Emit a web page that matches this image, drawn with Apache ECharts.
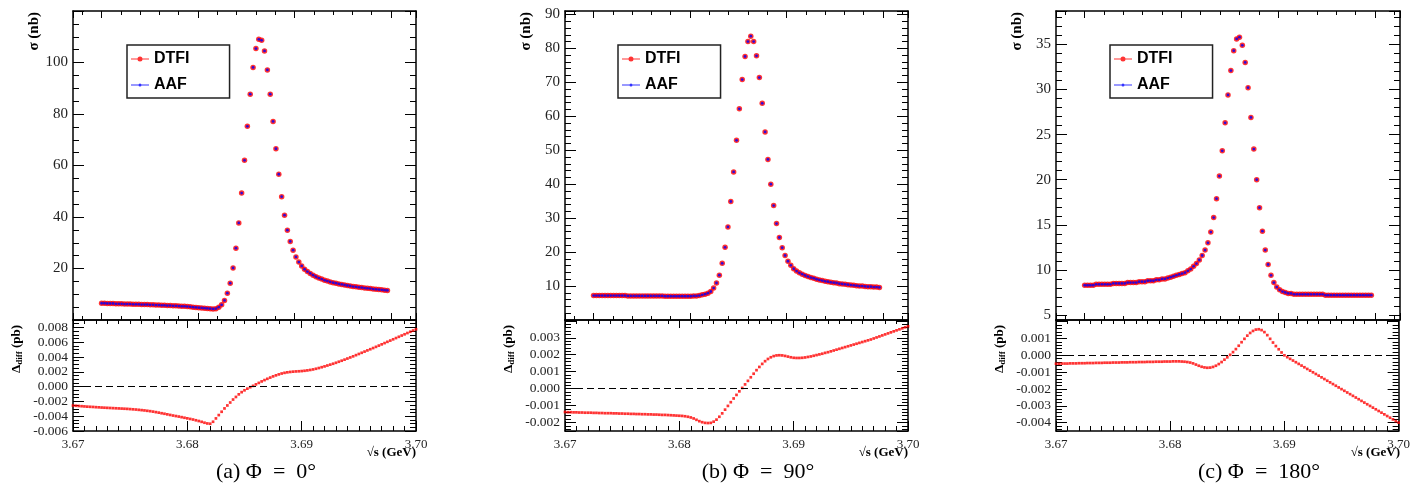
<!DOCTYPE html>
<html>
<head>
<meta charset="utf-8">
<title>sigma vs sqrt(s)</title>
<script src="https://cdn.jsdelivr.net/npm/echarts@6/dist/echarts.min.js"></script>
<style>
  html, body { margin: 0; padding: 0; background: #fff; }
  #main { width: 1413px; height: 486px; }
</style>
</head>
<body>
<div id="main"></div>
<script>
// sqrt(s) grid (GeV), the Delta_diff points use all of it
const energy = [
    3.67000, 3.67025, 3.67050, 3.67075, 3.67100, 3.67125, 3.67150, 3.67175,
    3.67200, 3.67225, 3.67250, 3.67275, 3.67300, 3.67325, 3.67350, 3.67375,
    3.67400, 3.67425, 3.67450, 3.67475, 3.67500, 3.67525, 3.67550, 3.67575,
    3.67600, 3.67625, 3.67650, 3.67675, 3.67700, 3.67725, 3.67750, 3.67775,
    3.67800, 3.67825, 3.67850, 3.67875, 3.67900, 3.67925, 3.67950, 3.67975,
    3.68000, 3.68025, 3.68050, 3.68075, 3.68100, 3.68125, 3.68150, 3.68175,
    3.68200, 3.68225, 3.68250, 3.68275, 3.68300, 3.68325, 3.68350, 3.68375,
    3.68400, 3.68425, 3.68450, 3.68475, 3.68500, 3.68525, 3.68550, 3.68575,
    3.68600, 3.68625, 3.68650, 3.68675, 3.68700, 3.68725, 3.68750, 3.68775,
    3.68800, 3.68825, 3.68850, 3.68875, 3.68900, 3.68925, 3.68950, 3.68975,
    3.69000, 3.69025, 3.69050, 3.69075, 3.69100, 3.69125, 3.69150, 3.69175,
    3.69200, 3.69225, 3.69250, 3.69275, 3.69300, 3.69325, 3.69350, 3.69375,
    3.69400, 3.69425, 3.69450, 3.69475, 3.69500, 3.69525, 3.69550, 3.69575,
    3.69600, 3.69625, 3.69650, 3.69675, 3.69700, 3.69725, 3.69750, 3.69775,
    3.69800, 3.69825, 3.69850, 3.69875, 3.69900, 3.69925, 3.69950, 3.69975,
    3.70000
]
// the cross sections are drawn from 3.6725 to 3.6975
const energyTop = energy.slice(10, 111)

// sigma (nb); DTFI and AAF coincide at this scale, so one list serves both
const sigma0 = [
    6.5, 6.5, 6.4, 6.4, 6.4, 6.3, 6.3, 6.3, 6.2, 6.2,
    6.2, 6.1, 6.1, 6.1, 6.0, 6.0, 6.0, 5.9, 5.9, 5.8,
    5.8, 5.7, 5.7, 5.6, 5.6, 5.5, 5.5, 5.4, 5.3, 5.3,
    5.2, 5.1, 5.0, 4.9, 4.8, 4.7, 4.6, 4.5, 4.4, 4.3,
    4.4, 5.0, 5.9, 7.6, 10.4, 14.3, 20.2, 27.9, 37.7, 49.3,
    62.0, 75.2, 87.7, 98.1, 105.4, 109.0, 108.6, 104.5, 97.1, 87.7,
    77.1, 66.5, 56.6, 47.9, 40.7, 34.9, 30.5, 27.1, 24.5, 22.5,
    21.0, 19.7, 18.8, 18.1, 17.4, 16.8, 16.3, 15.9, 15.4, 15.1,
    14.8, 14.5, 14.3, 14.0, 13.8, 13.6, 13.4, 13.2, 13.0, 12.9,
    12.7, 12.6, 12.4, 12.3, 12.2, 12.0, 11.9, 11.8, 11.7, 11.6, 11.5
]
const sigma90 = [
    7.2, 7.2, 7.2, 7.2, 7.2, 7.2, 7.2, 7.2, 7.2, 7.2,
    7.2, 7.2, 7.1, 7.1, 7.1, 7.1, 7.1, 7.1, 7.1, 7.1,
    7.1, 7.1, 7.1, 7.1, 7.1, 7.0, 7.0, 7.0, 7.0, 7.0,
    7.0, 7.0, 7.0, 7.0, 7.0, 7.1, 7.1, 7.2, 7.4, 7.6,
    7.9, 8.4, 9.4, 10.9, 13.2, 16.7, 21.4, 27.4, 34.9, 43.6,
    52.9, 62.2, 70.8, 77.6, 82.0, 83.6, 82.0, 77.8, 71.4, 63.8,
    55.4, 47.3, 40.0, 33.7, 28.4, 24.3, 21.3, 19.0, 17.3, 16.1,
    15.1, 14.4, 13.9, 13.5, 13.1, 12.8, 12.5, 12.3, 12.0, 11.8,
    11.6, 11.4, 11.3, 11.1, 11.0, 10.9, 10.7, 10.6, 10.5, 10.4,
    10.3, 10.2, 10.1, 10.0, 10.0, 9.9, 9.8, 9.8, 9.7, 9.7, 9.6
]
const sigma180 = [
    8.3, 8.3, 8.3, 8.3, 8.4, 8.4, 8.4, 8.4, 8.4, 8.4,
    8.5, 8.5, 8.5, 8.5, 8.5, 8.6, 8.6, 8.6, 8.6, 8.7,
    8.7, 8.7, 8.8, 8.8, 8.8, 8.9, 8.9, 9.0, 9.0, 9.1,
    9.2, 9.3, 9.4, 9.5, 9.6, 9.7, 9.9, 10.1, 10.4, 10.7,
    11.1, 11.6, 12.2, 13.0, 14.2, 15.8, 17.9, 20.4, 23.2, 26.3,
    29.4, 32.1, 34.3, 35.6, 35.8, 34.9, 33.0, 30.2, 26.9, 23.4,
    20.0, 16.9, 14.3, 12.2, 10.6, 9.4, 8.6, 8.1, 7.8, 7.6,
    7.5, 7.4, 7.4, 7.3, 7.3, 7.3, 7.3, 7.3, 7.3, 7.3,
    7.3, 7.3, 7.3, 7.3, 7.2, 7.2, 7.2, 7.2, 7.2, 7.2,
    7.2, 7.2, 7.2, 7.2, 7.2, 7.2, 7.2, 7.2, 7.2, 7.2, 7.2
]

// Delta_diff, in units of 0.001 pb
const diff0 = [
    -2.56, -2.59, -2.62, -2.65, -2.68, -2.71, -2.73, -2.75, -2.78, -2.80,
    -2.83, -2.85, -2.87, -2.89, -2.91, -2.93, -2.95, -2.97, -2.99, -3.01,
    -3.04, -3.07, -3.10, -3.14, -3.18, -3.22, -3.27, -3.32, -3.38, -3.45,
    -3.52, -3.60, -3.67, -3.75, -3.83, -3.91, -3.98, -4.05, -4.13, -4.21,
    -4.29, -4.37, -4.45, -4.55, -4.65, -4.76, -4.88, -4.98, -5.02, -4.75,
    -4.30, -3.85, -3.40, -2.95, -2.55, -2.15, -1.75, -1.40, -1.05, -0.75,
    -0.50, -0.28, -0.08, 0.10, 0.30, 0.50, 0.70, 0.88, 1.05, 1.22,
    1.38, 1.52, 1.65, 1.77, 1.86, 1.93, 1.98, 2.02, 2.05, 2.07,
    2.10, 2.14, 2.19, 2.25, 2.32, 2.41, 2.51, 2.62, 2.73, 2.85,
    2.97, 3.09, 3.22, 3.36, 3.50, 3.64, 3.79, 3.94, 4.09, 4.25,
    4.41, 4.57, 4.73, 4.89, 5.05, 5.21, 5.37, 5.54, 5.71, 5.88,
    6.05, 6.22, 6.39, 6.56, 6.73, 6.90, 7.07, 7.24, 7.41, 7.58, 7.75
]
const diff90 = [
    -1.38, -1.39, -1.39, -1.40, -1.40, -1.41, -1.41, -1.42, -1.42, -1.42,
    -1.43, -1.43, -1.44, -1.44, -1.45, -1.45, -1.45, -1.46, -1.46, -1.47,
    -1.47, -1.48, -1.48, -1.49, -1.49, -1.50, -1.50, -1.51, -1.51, -1.52,
    -1.52, -1.53, -1.53, -1.54, -1.55, -1.55, -1.56, -1.57, -1.58, -1.59,
    -1.60, -1.61, -1.63, -1.66, -1.70, -1.76, -1.84, -1.92, -1.98, -2.02,
    -2.03, -2.02, -1.95, -1.83, -1.66, -1.46, -1.24, -1.02, -0.80, -0.58,
    -0.37, -0.16, 0.04, 0.25, 0.46, 0.67, 0.88, 1.09, 1.28, 1.46,
    1.62, 1.75, 1.85, 1.92, 1.96, 1.97, 1.96, 1.93, 1.89, 1.85,
    1.82, 1.81, 1.81, 1.82, 1.84, 1.87, 1.90, 1.94, 1.98, 2.02,
    2.06, 2.11, 2.15, 2.20, 2.25, 2.30, 2.35, 2.40, 2.45, 2.50,
    2.55, 2.60, 2.65, 2.70, 2.75, 2.80, 2.85, 2.90, 2.96, 3.02,
    3.08, 3.14, 3.20, 3.26, 3.32, 3.38, 3.44, 3.50, 3.56, 3.62, 3.68
]
const diff180 = [
    -0.50, -0.50, -0.49, -0.49, -0.49, -0.48, -0.48, -0.48, -0.47, -0.47,
    -0.47, -0.46, -0.46, -0.46, -0.45, -0.45, -0.45, -0.44, -0.44, -0.44,
    -0.43, -0.43, -0.43, -0.42, -0.42, -0.42, -0.41, -0.41, -0.41, -0.40,
    -0.40, -0.40, -0.39, -0.39, -0.39, -0.38, -0.38, -0.38, -0.37, -0.37,
    -0.37, -0.36, -0.36, -0.36, -0.37, -0.38, -0.40, -0.43, -0.48, -0.55,
    -0.62, -0.68, -0.72, -0.74, -0.73, -0.69, -0.62, -0.52, -0.40, -0.26,
    -0.12, 0.03, 0.19, 0.37, 0.57, 0.78, 0.98, 1.17, 1.33, 1.45,
    1.53, 1.55, 1.50, 1.38, 1.20, 0.98, 0.76, 0.55, 0.36, 0.17,
    0.00, -0.11, -0.21, -0.31, -0.41, -0.51, -0.61, -0.71, -0.81, -0.91,
    -1.01, -1.11, -1.21, -1.31, -1.41, -1.51, -1.61, -1.71, -1.81, -1.91,
    -2.01, -2.11, -2.21, -2.31, -2.41, -2.51, -2.61, -2.71, -2.81, -2.91,
    -3.01, -3.11, -3.21, -3.31, -3.41, -3.51, -3.61, -3.71, -3.81, -3.91, -4.00
]

// tick labels that are printed
const energyTicks = [3.67, 3.68, 3.69, 3.70]
const sigmaTicks0 = [20, 40, 60, 80, 100]
const sigmaTicks90 = [10, 20, 30, 40, 50, 60, 70, 80, 90]
const sigmaTicks180 = [5, 10, 15, 20, 25, 30, 35]
const diffTicks0 = [-6, -4, -2, 0, 2, 4, 6, 8]
const diffTicks90 = [-2, -1, 0, 1, 2, 3]
const diffTicks180 = [-4, -3, -2, -1, 0, 1]

const captions = ['(a) Φ\u2002=\u20020°', '(b) Φ\u2002=\u200290°', '(c) Φ\u2002=\u2002180°']

const SERIF = '"Liberation Serif", "DejaVu Serif", serif'
const SANS = '"Liberation Sans", Arial, sans-serif'
const TOP = 11, SPLIT = 320, BOTTOM = 431

const ICON_DTFI = 'path://M0,4.5L18,4.5L18,5.5L0,5.5Z M6.5,5A2.5,2.5,0,1,1,11.5,5A2.5,2.5,0,1,1,6.5,5Z'
const ICON_AAF = 'path://M0,4.5L18,4.5L18,5.5L0,5.5Z M7.5,5A1.5,1.5,0,1,1,10.5,5A1.5,1.5,0,1,1,7.5,5Z'

const panels = [
    {
        left: 73, width: 343, sigma: sigma0, diff: diff0,
        sigmaAxis: { min: 0, max: 120, interval: 20, minor: 4 }, sigmaTicks: sigmaTicks0,
        diffAxis: { min: -6, max: 9, interval: 2, minor: 4 }, diffTicks: diffTicks0,
        legendLeft: 127, captionX: 266
    },
    {
        left: 565, width: 343, sigma: sigma90, diff: diff90,
        sigmaAxis: { min: 0, max: 91, interval: 10, minor: 5 }, sigmaTicks: sigmaTicks90,
        diffAxis: { min: -2.5, max: 4.05, splitNumber: 6, minor: 5 }, diffTicks: diffTicks90,
        legendLeft: 618, captionX: 758
    },
    {
        left: 1056, width: 344, sigma: sigma180, diff: diff180,
        sigmaAxis: { min: 4.45, max: 38.7, splitNumber: 7, minor: 5 }, sigmaTicks: sigmaTicks180,
        diffAxis: { min: -4.5, max: 2.1, splitNumber: 6, minor: 5 }, diffTicks: diffTicks180,
        legendLeft: 1110, captionX: 1259
    }
]

function inList(list, v) {
    return list.some(t => Math.abs(t - v) < 1e-6)
}

// one side of a ROOT style frame: black line, ticks pointing inwards
function frameAxis(gridIndex, position, range, tickLen, minorLen, label) {
    const axis = {
        type: 'value',
        gridIndex: gridIndex,
        position: position,
        min: range.min,
        max: range.max,
        axisLine: { show: true, onZero: false, lineStyle: { color: '#000', width: 1.5 } },
        axisTick: { show: true, inside: true, length: tickLen, lineStyle: { color: '#000', width: 1 } },
        minorTick: { show: true, splitNumber: range.minor, length: minorLen, lineStyle: { color: '#000', width: 1 } },
        splitLine: { show: false },
        minorSplitLine: { show: false },
        axisLabel: { show: false }
    }
    if (range.interval != null) axis.interval = range.interval
    if (range.splitNumber != null) axis.splitNumber = range.splitNumber
    if (label) {
        axis.axisLabel = Object.assign({
            show: true, showMinLabel: true, showMaxLabel: true,
            color: '#222', fontFamily: SERIF
        }, label)
    }
    return axis
}

const xAxis = []
const yAxis = []
const grid = []
const series = []
const legend = []
const graphic = []

panels.forEach((p, i) => {
    const gt = grid.length
    grid.push({ left: p.left, top: TOP, width: p.width, height: SPLIT - TOP })
    const gb = grid.length
    grid.push({ left: p.left, top: SPLIT, width: p.width, height: BOTTOM - SPLIT })

    // upper pad: hidden data axis plus ROOT tick marks on both edges
    const xData = xAxis.length
    xAxis.push({ type: 'value', gridIndex: gt, min: 3.67, max: 3.70, show: false })
    const topTicks = { min: -0.295, max: 3.259, splitNumber: 4, minor: 5 }
    xAxis.push(frameAxis(gt, 'bottom', topTicks, 7, 4))
    xAxis.push(frameAxis(gt, 'top', topTicks, 7, 4))

    // lower pad energy axis
    const xLow = xAxis.length
    const eRange = { min: 3.67, max: 3.70, interval: 0.01, minor: 10 }
    xAxis.push(frameAxis(gb, 'bottom', eRange, 10, 5, {
        fontSize: 13, margin: 7,
        formatter: v => inList(energyTicks, v) ? v.toFixed(2) : ''
    }))
    xAxis.push(frameAxis(gb, 'top', eRange, 8, 4))

    const ySig = yAxis.length
    yAxis.push(frameAxis(gt, 'left', p.sigmaAxis, 11, 6, {
        fontSize: 15, margin: 5,
        formatter: v => inList(p.sigmaTicks, v) ? String(Math.round(v)) : ''
    }))
    yAxis.push(frameAxis(gt, 'right', p.sigmaAxis, 11, 6))
    const yDiff = yAxis.length
    yAxis.push(frameAxis(gb, 'left', p.diffAxis, 11, 6, {
        fontSize: 13.5, margin: 5,
        formatter: v => inList(p.diffTicks, v) ? (Math.round(v) / 1000).toFixed(3) : ''
    }))
    yAxis.push(frameAxis(gb, 'right', p.diffAxis, 11, 6))

    series.push({
        name: 'DTFI', type: 'scatter', xAxisIndex: xData, yAxisIndex: ySig,
        symbol: 'circle', symbolSize: 5.5,
        itemStyle: { color: '#ff0000' },
        data: energyTop.map((e, k) => [e, p.sigma[k]])
    })
    series.push({
        name: 'AAF', type: 'scatter', xAxisIndex: xData, yAxisIndex: ySig,
        symbol: 'circle', symbolSize: 2.8,
        itemStyle: { color: '#0000ff' },
        data: energyTop.map((e, k) => [e, p.sigma[k]])
    })
    series.push({
        name: 'diff ' + i, type: 'scatter', xAxisIndex: xLow, yAxisIndex: yDiff,
        symbol: 'rect', symbolSize: 2.7,
        itemStyle: { color: '#ff0000' },
        data: energy.map((e, k) => [e, p.diff[k]]),
        markLine: {
            silent: true, symbol: ['none', 'none'],
            label: { show: false },
            lineStyle: { color: '#000', type: [7, 4], width: 1.2 },
            data: [{ yAxis: 0 }]
        }
    })

    legend.push({
        left: p.legendLeft, top: 45, orient: 'vertical',
        backgroundColor: '#fff', borderColor: '#222', borderWidth: 1.5,
        padding: [6, 40, 5, 4], itemGap: 10, itemWidth: 18, itemHeight: 12,
        selectedMode: false,
        textStyle: { fontFamily: SANS, fontWeight: 'bold', fontSize: 16, color: '#000' },
        data: [{ name: 'DTFI', icon: ICON_DTFI }, { name: 'AAF', icon: ICON_AAF }]
    })

    // axis titles and caption
    graphic.push({
        type: 'text', x: p.left - 39, y: 12, rotation: Math.PI / 2,
        style: {
            text: 'σ (nb)', font: 'bold 15px ' + SERIF, fill: '#000',
            align: 'right', verticalAlign: 'middle',
            textAlign: 'right', textVerticalAlign: 'middle'
        }
    })
    graphic.push({
        type: 'text', x: p.left - 56, y: 325, rotation: Math.PI / 2,
        style: {
            text: '{m|Δ}{s|diff}{m| (pb)}', fill: '#000',
            align: 'right', verticalAlign: 'middle',
            textAlign: 'right', textVerticalAlign: 'middle',
            rich: {
                m: { font: 'bold 13px ' + SERIF, fill: '#000' },
                s: { font: 'bold 9px ' + SERIF, fill: '#000', verticalAlign: 'bottom', padding: [6, 0, 0, 0] }
            }
        }
    })
    graphic.push({
        type: 'text', x: p.left + p.width, y: 453,
        style: {
            text: '√s (GeV)', font: 'bold 13px ' + SERIF, fill: '#000',
            align: 'right', verticalAlign: 'middle',
            textAlign: 'right', textVerticalAlign: 'middle'
        }
    })
    graphic.push({
        type: 'text', x: p.captionX, y: 472,
        style: {
            text: captions[i], font: '22px ' + SERIF, fill: '#000',
            align: 'center', verticalAlign: 'middle',
            textAlign: 'center', textVerticalAlign: 'middle'
        }
    })
})

const myChart = echarts.init(document.querySelector('#main'))
myChart.setOption({
    animation: false,
    backgroundColor: '#fff',
    grid: grid,
    xAxis: xAxis,
    yAxis: yAxis,
    legend: legend,
    series: series,
    graphic: graphic
})
</script>
</body>
</html>
